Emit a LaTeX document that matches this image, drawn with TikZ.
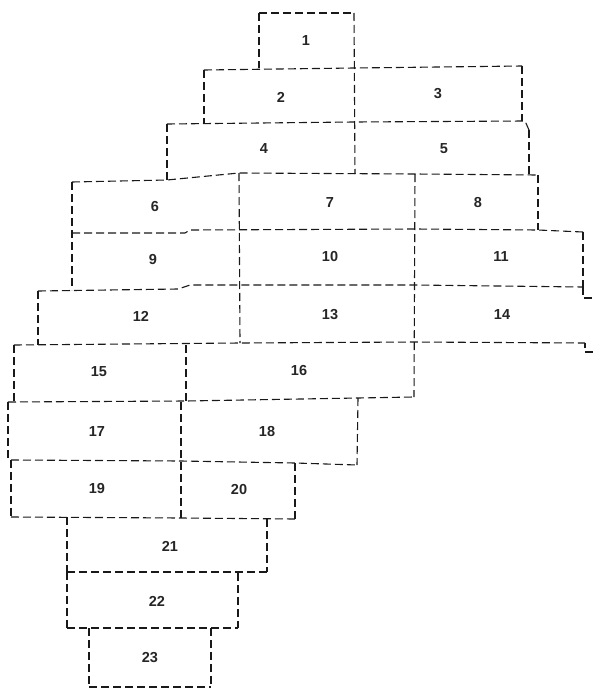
\documentclass[tikz,border=0pt]{standalone}
\usepackage{fontspec}
\setmainfont{Liberation Sans}
\begin{document}
\begin{tikzpicture}[x=1pt,y=-1pt,
  sheet/.style={draw=black!90, line width=1.1pt, dash pattern=on 8pt off 4pt, line join=miter},
  lbl/.style={font=\fontsize{14.5}{16}\selectfont\bfseries, text=black!85, inner sep=0pt}]
\useasboundingbox[fill=white] (0,0) rectangle (593,688);
% horizontal lines
\draw[sheet] (259,13) -- (354,13);
\draw[sheet] (204,70) -- (354,68) -- (522,66);
\draw[sheet] (167,124) -- (354,122) -- (525,121) -- (529,130);
\draw[sheet] (72,182) -- (167,180) -- (239,173) -- (415,174) -- (538,175);
\draw[sheet] (72,233) -- (185,233) -- (190,230) -- (415,229) -- (538,230) -- (583,232);
\draw[sheet] (38,291) -- (178,289) -- (190,285) -- (414,285) -- (583,287);
\draw[sheet] (14,345) -- (240,343) -- (414,342) -- (585,343);
\draw[sheet] (8,402) -- (186,401) -- (358,398) -- (414,397);
\draw[sheet] (11,460) -- (181,461) -- (295,463) -- (357,465);
\draw[sheet] (11,517) -- (181,518) -- (295,519);
\draw[sheet] (67,572) -- (267,572);
\draw[sheet] (67,628) -- (238,628);
\draw[sheet] (89,687) -- (211,687);
% vertical lines
\draw[sheet] (259,13) -- (259,68);
\draw[sheet] (354,13) -- (355,174);
\draw[sheet] (204,70) -- (204,123);
\draw[sheet] (522,66) -- (522,121);
\draw[sheet] (167,124) -- (167,180);
\draw[sheet] (529,130) -- (529,175);
\draw[sheet] (538,175) -- (538,230);
\draw[sheet] (72,182) -- (72,290);
\draw[sheet] (239,173) -- (240,343);
\draw[sheet] (415,174) -- (414,397);
\draw[sheet] (583,232) -- (583,287);
\draw[sheet] (583,287) -- (583,298) -- (593,298);
\draw[sheet] (593,352) -- (585,352) -- (585,343);
\draw[sheet] (38,291) -- (38,345);
\draw[sheet] (14,345) -- (14,401);
\draw[sheet] (186,345) -- (186,401);
\draw[sheet] (8,402) -- (8,460);
\draw[sheet] (181,402) -- (181,518);
\draw[sheet] (358,398) -- (357,465);
\draw[sheet] (11,460) -- (11,517);
\draw[sheet] (295,463) -- (295,519);
\draw[sheet] (67,517) -- (67,572);
\draw[sheet] (267,519) -- (267,572);
\draw[sheet] (67,572) -- (67,628);
\draw[sheet] (238,573) -- (238,628);
\draw[sheet] (89,628) -- (89,688);
\draw[sheet] (211,628) -- (211,688);
% labels
\node[lbl] (n1) at (306,41) {1};
\node[lbl] (n2) at (281,97) {2};
\node[lbl] (n3) at (438,94) {3};
\node[lbl] (n4) at (264,149) {4};
\node[lbl] (n5) at (444,149) {5};
\node[lbl] (n6) at (155,207) {6};
\node[lbl] (n7) at (330,203) {7};
\node[lbl] (n8) at (478,203) {8};
\node[lbl] (n9) at (153,260) {9};
\node[lbl] (n10) at (330,257) {10};
\node[lbl] (n11) at (501,257) {11};
\node[lbl] (n12) at (141,316) {12};
\node[lbl] (n13) at (330,315) {13};
\node[lbl] (n14) at (502,315) {14};
\node[lbl] (n15) at (99,372) {15};
\node[lbl] (n16) at (299,371) {16};
\node[lbl] (n17) at (97,432) {17};
\node[lbl] (n18) at (267,432) {18};
\node[lbl] (n19) at (97,489) {19};
\node[lbl] (n20) at (239,490) {20};
\node[lbl] (n21) at (170,546) {21};
\node[lbl] (n22) at (157,601) {22};
\node[lbl] (n23) at (150,658) {23};
\end{tikzpicture}
\end{document}
